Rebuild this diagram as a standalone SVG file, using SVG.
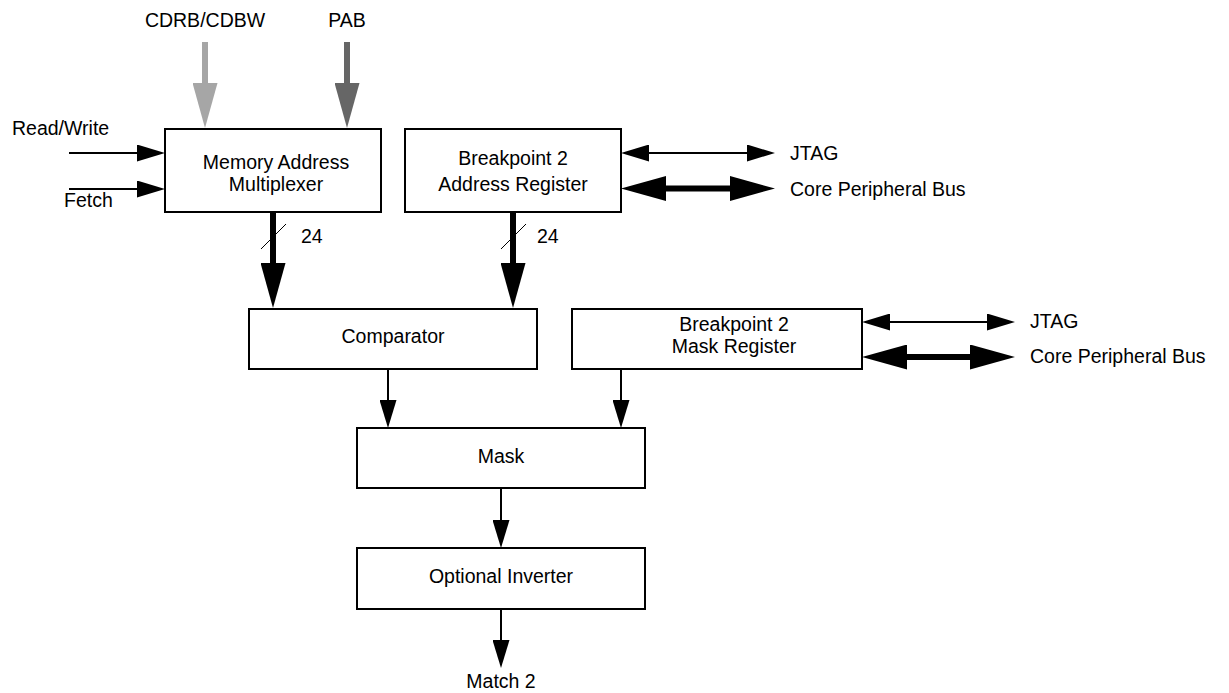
<svg xmlns="http://www.w3.org/2000/svg" width="1229" height="693" viewBox="0 0 1229 693">
  <style>
    text { font-family: "Liberation Sans", Arial, sans-serif; font-size: 19.5px; fill: #000; }
    .c { text-anchor: middle; }
    .box { fill: #fff; stroke: #000; stroke-width: 2; }
    .thin { stroke: #000; stroke-width: 2; fill: none; }
    .bus { stroke: #000; stroke-width: 6; fill: none; }
    .hair { stroke: #000; stroke-width: 1; }
  </style>
  <defs>
    <marker id="ah" markerUnits="userSpaceOnUse" markerWidth="28" markerHeight="17" viewBox="0 0 28 17" refX="1" refY="8.5" orient="auto-start-reverse">
      <path d="M0,0 L28,8.5 L0,17 z" fill="#000"/>
    </marker>
    <marker id="bh" markerUnits="userSpaceOnUse" markerWidth="45" markerHeight="25" viewBox="0 0 45 25" refX="1" refY="12.5" orient="auto-start-reverse">
      <path d="M0,0 L45,12.5 L0,25 z" fill="#000"/>
    </marker>
    <marker id="bhl" markerUnits="userSpaceOnUse" markerWidth="45" markerHeight="25" viewBox="0 0 45 25" refX="1" refY="12.5" orient="auto">
      <path d="M0,0 L45,12.5 L0,25 z" fill="#a6a6a6"/>
    </marker>
    <marker id="bhd" markerUnits="userSpaceOnUse" markerWidth="45" markerHeight="25" viewBox="0 0 45 25" refX="1" refY="12.5" orient="auto">
      <path d="M0,0 L45,12.5 L0,25 z" fill="#666666"/>
    </marker>
  </defs>

  <g id="connectors">
    <line x1="205" y1="42" x2="205" y2="84" stroke="#a6a6a6" stroke-width="6" marker-end="url(#bhl)"/>
    <line x1="347" y1="42" x2="347" y2="84" stroke="#666666" stroke-width="6" marker-end="url(#bhd)"/>
    <line class="thin" x1="69" y1="153" x2="138" y2="153" marker-end="url(#ah)"/>
    <line class="thin" x1="69" y1="189" x2="138" y2="189" marker-end="url(#ah)"/>
    <line class="bus" x1="273" y1="212" x2="273" y2="264" marker-end="url(#bh)"/>
    <line class="hair" x1="261" y1="249" x2="286" y2="224"/>
    <line class="bus" x1="513" y1="212" x2="513" y2="264" marker-end="url(#bh)"/>
    <line class="hair" x1="501" y1="249" x2="526" y2="224"/>
    <line class="thin" x1="648" y1="153" x2="748" y2="153" marker-start="url(#ah)" marker-end="url(#ah)"/>
    <line class="bus" x1="665" y1="188.5" x2="731" y2="188.5" marker-start="url(#bh)" marker-end="url(#bh)"/>
    <line class="thin" x1="889" y1="322" x2="988" y2="322" marker-start="url(#ah)" marker-end="url(#ah)"/>
    <line class="bus" x1="906" y1="357" x2="971" y2="357" marker-start="url(#bh)" marker-end="url(#bh)"/>
    <line class="thin" x1="388" y1="369" x2="388" y2="401" marker-end="url(#ah)"/>
    <line class="thin" x1="621" y1="369" x2="621" y2="401" marker-end="url(#ah)"/>
    <line class="thin" x1="501" y1="488" x2="501" y2="521" marker-end="url(#ah)"/>
    <line class="thin" x1="501" y1="609" x2="501" y2="641" marker-end="url(#ah)"/>
  </g>

  <g id="labels">
    <text class="c" x="205" y="27">CDRB/CDBW</text>
    <text class="c" x="347" y="27">PAB</text>
    <text x="12" y="135">Read/Write</text>
    <text x="64" y="207">Fetch</text>
    <text x="301" y="243">24</text>
    <text x="537" y="243">24</text>
    <text x="790" y="160">JTAG</text>
    <text x="790" y="196">Core Peripheral Bus</text>
    <text x="1030" y="328">JTAG</text>
    <text x="1030" y="363">Core Peripheral Bus</text>
    <text class="c" x="501" y="688">Match 2</text>
  </g>

  <g id="mux">
    <rect class="box" x="165" y="129" width="216" height="83"/>
    <text class="c" x="276" y="169">Memory Address</text>
    <text class="c" x="276" y="191">Multiplexer</text>
  </g>
  <g id="bp2addr">
    <rect class="box" x="405" y="129" width="216" height="83"/>
    <text class="c" x="513" y="165">Breakpoint 2</text>
    <text class="c" x="513" y="191">Address Register</text>
  </g>
  <g id="comparator">
    <rect class="box" x="249" y="309" width="288" height="60"/>
    <text class="c" x="393" y="343">Comparator</text>
  </g>
  <g id="bp2mask">
    <rect class="box" x="572" y="309" width="290" height="60"/>
    <text class="c" x="734" y="331">Breakpoint 2</text>
    <text class="c" x="734" y="353">Mask Register</text>
  </g>
  <g id="mask">
    <rect class="box" x="357" y="428" width="288" height="60"/>
    <text class="c" x="501" y="463">Mask</text>
  </g>
  <g id="inverter">
    <rect class="box" x="357" y="548" width="288" height="61"/>
    <text class="c" x="501" y="583">Optional Inverter</text>
  </g>
</svg>
